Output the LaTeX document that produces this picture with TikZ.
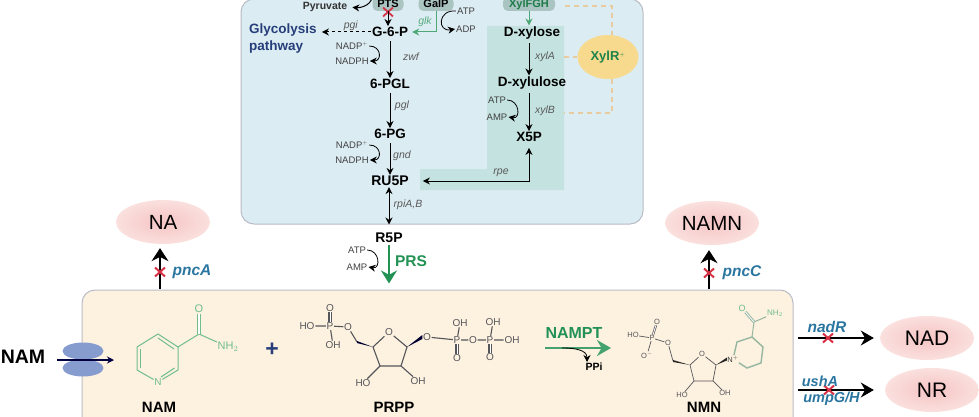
\documentclass[tikz,border=0pt]{standalone}
\usepackage{fontspec}
\setmainfont{Liberation Sans}
\definecolor{cellblue}{RGB}{220, 236, 243}
\definecolor{tealzone}{RGB}{196, 227, 224}
\definecolor{tealbox}{RGB}{170, 196, 194}
\definecolor{frameedge}{RGB}{185, 188, 198}
\definecolor{creamfill}{RGB}{253, 241, 223}
\definecolor{pathgreen}{RGB}{34, 146, 84}
\definecolor{molgreen}{RGB}{112, 190, 140}
\definecolor{navytext}{RGB}{38, 62, 122}
\definecolor{genetext}{RGB}{42, 118, 160}
\definecolor{koRed}{RGB}{214, 50, 70}
\definecolor{pinkdark}{RGB}{245, 196, 196}
\definecolor{pinklight}{RGB}{250, 224, 222}
\definecolor{sungold}{RGB}{248, 218, 142}
\definecolor{dashtan}{RGB}{232, 204, 160}
\definecolor{porteblue}{RGB}{134, 156, 206}
\definecolor{bondgrey}{RGB}{85, 85, 92}
\usepackage{tikz}
\usetikzlibrary{positioning, shapes.geometric, shapes.misc, arrows.meta, calc}
\tikzset{
    metab/.style={inner sep=1pt, font=\fontsize{13.5}{15}\selectfont\bfseries},
    cofac/.style={inner sep=1pt, text=black!75, font=\fontsize{9.5}{11}\selectfont},
    enz/.style={inner sep=1pt, text=black!65, font=\fontsize{10.5}{12}\selectfont\itshape},
    gene/.style={inner sep=1pt, text=genetext, font=\fontsize{15.5}{16}\selectfont\bfseries\itshape},
    prodell/.style={ellipse, inner sep=0pt, minimum width=94, minimum height=44, inner color=pinkdark, outer color=pinklight, font=\fontsize{20.5}{22}\selectfont},
    capbox/.style={rectangle, rounded corners=5, fill=tealbox, inner sep=0pt, minimum height=14, text height=8pt, text depth=0pt, font=\fontsize{11}{12}\selectfont\bfseries},
    rxn/.style={->, line width=1pt, shorten <=3pt},
    cofarrow/.style={->, line width=0.8pt},
    bigarrow/.style={-{Stealth[length=13, width=16]}, line width=1.8pt},
    knock/.style={cross out, draw=koRed, line width=2pt, inner sep=0pt, minimum width=8, minimum height=7},
    reg/.style={draw=dashtan, line width=1.5pt, dash pattern=on 5pt off 4pt},
    atom/.style={inner sep=0.6pt, text=bondgrey, font=\fontsize{10}{11}\selectfont},
    gatom/.style={inner sep=0.6pt, text=molgreen, font=\fontsize{10}{11}\selectfont},
    satom/.style={inner sep=0.4pt, text=bondgrey, font=\fontsize{7.5}{8}\selectfont},
    bond/.style={draw=bondgrey, line width=1.1pt},
    gbond/.style={draw=molgreen, line width=1pt}
}
\begin{document}
\begin{tikzpicture}[x=1pt, y=-1pt, >={Stealth[length=7, width=7]}]
    \useasboundingbox (0,0) rectangle (979,417);
    \clip (0,0) rectangle (979,417);

    % the two compartments
    \node [draw=frameedge, fill=cellblue, line width=1pt, rounded corners=13, minimum width=402, minimum height=225, inner sep=0pt] (cell) at (442,111.5) {};
    \node [draw=frameedge, fill=creamfill, line width=1pt, rounded corners=13, minimum width=711, minimum height=170, inner sep=0pt] (mix) at (437.5,375) {};
    \fill [tealzone] (487,26) -- (564,26) -- (564,190) -- (420,190) -- (420,169) -- (487,169) -- cycle;

    % pentose phosphate branch
    \node [capbox, minimum width=31] (pts) at (388,4) {PTS};
    \node [capbox, minimum width=35] (galp) at (436,4) {GalP};
    \node [capbox, minimum width=52, text=pathgreen!85!black] (xylfgh) at (529,4) {XylFGH};
    \node [inner sep=1pt, font=\fontsize{10.5}{12}\selectfont\bfseries, text=black!80] (pyr) at (325,7) {Pyruvate};
    \node [metab] (g6p) at (390,32) {G-6-P};
    \node [metab, text=navytext, anchor=west] (glyco) at (248,30) {Glycolysis};
    \node [metab, text=navytext, anchor=west] (glycopath) at (248,47) {pathway};
    \node [metab] (pgl) at (390,84) {6-PGL};
    \node [metab] (pg) at (390,134) {6-PG};
    \node [metab, font=\fontsize{14}{15}\selectfont\bfseries] (ru5p) at (390,181) {RU5P};
    \node [metab, font=\fontsize{14}{15}\selectfont\bfseries] (r5p) at (389,238) {R5P};
    \node [metab] (xylose) at (532,33) {D-xylose};
    \node [metab] (xylulose) at (532,83) {D-xylulose};
    \node [metab] (x5p) at (529,137) {X5P};

    \node [enz, above=0pt of g6p.west, xshift=-20] (pgi) {pgi};
    \node [enz, text=pathgreen!75] (glk) at (425,22) {glk};
    \node [enz] (zwf) at (411,57) {zwf};
    \node [enz] (pgllab) at (402,106) {pgl};
    \node [enz] (gnd) at (402,156) {gnd};
    \node [enz] (rpia) at (408,205) {rpiA,B};
    \node [enz] (rpe) at (501,173) {rpe};
    \node [enz] (xyla) at (545,57) {xylA};
    \node [enz] (xylb) at (545,111) {xylB};

    \node [cofac] (atp1) at (466,11) {ATP};
    \node [cofac] (adp1) at (466,29) {ADP};
    \node [cofac] (nadp1) at (352,46) {NADP$^{\scriptscriptstyle +}$};
    \node [cofac] (nadph1) at (352,61) {NADPH};
    \node [cofac] (nadp2) at (352,145) {NADP$^{\scriptscriptstyle +}$};
    \node [cofac] (nadph2) at (352,160) {NADPH};
    \node [cofac] (atp2) at (497,100) {ATP};
    \node [cofac] (amp2) at (497,117) {AMP};
    \node [cofac] (atp3) at (357,250) {ATP};
    \node [cofac] (amp3) at (357,267) {AMP};

    \node [knock, line width=1.8pt] (koPts) at (388,12) {};
    \draw [->, line width=1pt] (pts.south) -- (pts.south |- g6p.north);
    \draw [->, line width=1pt, shorten >=4pt] (pts.north west) to[out=-100, in=-5] (pyr.east);
    \draw [->, line width=1pt, dashed, shorten >=4pt] (g6p.west) -- (g6p.west -| glyco.east);
    \draw [->, line width=1pt, pathgreen!80, shorten >=3pt] (galp.south) |- (g6p.east);
    \draw [cofarrow] (atp1.west) to[out=175, in=190, looseness=2.6] (adp1.west);
    \draw [rxn] (g6p) -- (pgl);
    \draw [rxn] (pgl) -- (pg);
    \draw [rxn] (pg) -- (ru5p);
    \draw [<->, line width=1pt] (r5p |- ru5p.south) -- (r5p |- cell.south);
    \draw [cofarrow] (nadp1.east) to[out=0, in=0, looseness=2.1] (nadph1.east);
    \draw [cofarrow] (nadp2.east) to[out=0, in=0, looseness=2.1] (nadph2.east);
    \draw [cofarrow] (atp2.east) to[out=0, in=-10, looseness=1.9] (amp2.east);
    \draw [cofarrow] (atp3.east) to[out=0, in=-10, looseness=1.9] (amp3.east);
    \draw [->, line width=1pt, pathgreen!80] (xylfgh.south) -- (xylfgh.south |- xylose.north);
    \draw [rxn] (xylose.south -| xylfgh) -- (xylulose.north -| xylfgh);
    \draw [rxn] (xylulose.south -| xylfgh) -- (x5p.north);
    \draw [<->, line width=1pt, shorten <=5pt, shorten >=13pt] (x5p.south) |- (ru5p.east);
    \draw [bigarrow, draw=pathgreen, fill=pathgreen, shorten >=6pt, shorten <=1pt] (r5p.south) -- (r5p.south |- mix.north);
    \node [metab, text=pathgreen, font=\fontsize{15.5}{17}\selectfont\bfseries] (prs) at (411,261) {PRS};

    % XylR regulation
    \node [ellipse, fill=sungold, inner sep=0pt, minimum width=61, minimum height=44, text=pathgreen!90!black, font=\fontsize{13}{14}\selectfont\bfseries] (xylr) at (608,57) {XylR$^{\scriptscriptstyle +}$};
    \coordinate (regtop) at (565,6);
    \coordinate (regmid) at (564,57);
    \coordinate (regbot) at (564,113);
    \draw [reg] (regtop) -| ([xshift=4]xylr.north);
    \draw [reg] (regmid) -- (xylr.west);
    \draw [reg] ([xshift=4]xylr.south) |- (regbot);

    % side products on top of the box
    \node [prodell] (na) at (163,222) {NA};
    \node [prodell] (namn) at (712,223) {NAMN};
    \coordinate (nafoot) at (160,289);
    \coordinate (namnfoot) at (709,289);
    \draw [bigarrow, line width=1.2pt, -{Stealth[length=13, width=17]}, shorten >=4pt] (nafoot) -- (nafoot |- na.south);
    \draw [bigarrow, line width=1.2pt, -{Stealth[length=13, width=17]}, shorten >=5pt] (namnfoot) -- (namnfoot |- namn.south);
    \node [knock] (kopnca) at (160,272) {};
    \node [knock] (kopncc) at (709,273) {};
    \node [gene] (pnca) at (192,272) {pncA};
    \node [gene] (pncc) at (742,273) {pncC};

    % uptake
    \node [inner sep=0pt, font=\fontsize{19.5}{21}\selectfont\bfseries] (namout) at (23,357) {NAM};
    \node [ellipse, fill=porteblue, inner sep=0pt, minimum width=41, minimum height=17] (porteup) at (83,351) {};
    \node [ellipse, fill=porteblue, inner sep=0pt, minimum width=41, minimum height=17] (portedn) at (83,368) {};
    \coordinate (namenter) at (57,360);
    \coordinate (namin) at (114,360);
    \draw [->, line width=1.4pt, draw=black!75!blue] (namenter) -- (namin);

    % NAM molecule
    \coordinate (na1) at (158,334);
    \coordinate (na2) at (178,347);
    \coordinate (na3) at (178,370);
    \node [gatom] (nan) at (158,382) {N};
    \coordinate (na5) at (137,370);
    \coordinate (na6) at (137,347);
    \coordinate (nac) at (199,334);
    \node [gatom, font=\fontsize{11}{12}\selectfont] (nao) at (199,309) {O};
    \node [gatom, font=\fontsize{11}{12}\selectfont] (nanh) at (228,347) {NH$_2$};
    \draw [gbond] (na1) -- (na2) -- (na3) -- (nan) -- (na5) -- (na6) -- (na1);
    \draw [gbond] ($(na1)+(0,4)$) -- ($(na2)+(-4,2)$);
    \draw [gbond] ($(na3)+(-3.5,-2)$) -- ($(nan)+(3,-5)$);
    \draw [gbond] ($(na5)+(3.5,-2)$) -- ($(na6)+(3.5,2)$);
    \draw [gbond] (na2) -- (nac) -- (nanh);
    \draw [gbond, double, double distance=1.2pt, draw=molgreen] (nac) -- (nao);
    \node [metab, font=\fontsize{15}{16}\selectfont\bfseries] (namlab) at (159,407) {NAM};
    \node [inner sep=0pt, text=navytext, font=\fontsize{23}{24}\selectfont\bfseries] (plus) at (272,350) {+};

    % PRPP molecule
    \node [atom] (prho1) at (307,326) {HO};
    \node [atom] (prp1) at (330,326) {P};
    \node [atom] (pro1) at (330,308) {O};
    \node [atom] (proh1) at (333,345) {OH};
    \node [atom] (pro2) at (348,327) {O};
    \coordinate (prch) at (357,342);
    \coordinate (prc4) at (373,347);
    \node [atom] (prring) at (389,332) {O};
    \coordinate (prc1) at (407,347);
    \coordinate (prc2) at (401,366);
    \coordinate (prc3) at (380,366);
    \node [atom] (pro3) at (427,337) {O};
    \node [atom] (prp2) at (457,340) {P};
    \node [atom] (proh2) at (460,323) {OH};
    \node [atom] (pro4) at (457,358) {O};
    \node [atom] (pro5) at (473,340) {O};
    \node [atom] (prp3) at (490,340) {P};
    \node [atom] (proh3) at (493,322) {OH};
    \node [atom] (proh4) at (512,340) {OH};
    \node [atom] (pro6) at (490,357) {O};
    \node [atom] (prho2) at (363,383) {HO};
    \node [atom] (proh5) at (418,381) {OH};
    \draw [bond] (prho1) -- (prp1) -- (pro2) -- (prch);
    \draw [bond] (prp1) -- (proh1);
    \draw [bond, double, double distance=1pt] (prp1) -- (pro1);
    \draw [bond] (prc4) -- (prring) -- (prc1) -- (prc2) -- (prc3) -- (prc4);
    \draw [bond] (pro3) -- (prp2) -- (pro5) -- (prp3) -- (proh4);
    \draw [bond] (prp2) -- (proh2);
    \draw [bond] (prp3) -- (proh3);
    \draw [bond, double, double distance=1pt] (prp2) -- (pro4);
    \draw [bond, double, double distance=1pt] (prp3) -- (pro6);
    \draw [bond] (prc3) -- (prho2);
    \draw [bond] (prc2) -- (proh5);
    \fill [black!80!blue] (prc4) -- ($(prch)+(0,-1)$) -- ($(prch)+(0,1)$) -- cycle;
    \fill [black!80!blue] (prc1) -- ($(pro3.west)+(0,-2)$) -- ($(pro3.west)+(0,2)$) -- cycle;
    \node [metab, font=\fontsize{15}{16}\selectfont\bfseries] (prpp) at (394,407) {PRPP};

    % NAMPT step
    \node [metab, text=pathgreen, font=\fontsize{16}{17}\selectfont\bfseries] (nampt) at (574,333) {NAMPT};
    \coordinate (namptin) at (545,348);
    \coordinate (namptout) at (611,348);
    \draw [bigarrow, draw=pathgreen!85, -{Stealth[length=14, width=16]}] (namptin) -- (namptout);
    \node [inner sep=1pt, font=\fontsize{10.5}{12}\selectfont\bfseries] (ppi) at (594,367) {PPi};
    \coordinate (ppistart) at (562,348);
    \draw [cofarrow] (ppistart) to[out=0, in=90, looseness=1.1] ([xshift=-7]ppi.north);

    % NMN molecule
    \node [satom] (nmho) at (633,335) {HO};
    \node [satom] (nmp) at (652,338) {P};
    \node [satom] (nmo1) at (657,322) {O};
    \node [satom] (nmo2) at (647,355) {O$^{-}$};
    \node [satom] (nmo3) at (668,343) {O};
    \coordinate (nmch) at (673,361);
    \coordinate (nmc4) at (690,365);
    \node [satom] (nmring) at (702,354) {O};
    \coordinate (nmc1) at (716,365);
    \coordinate (nmc2) at (713,381);
    \coordinate (nmc3) at (694,381);
    \node [satom, text=black!75] (nmn1) at (733,359) {N$^{+}$};
    \coordinate (nmr2) at (737,342);
    \coordinate (nmr3) at (752,337);
    \coordinate (nmr4) at (763,347);
    \coordinate (nmr5) at (761,363);
    \coordinate (nmr6) at (747,368);
    \coordinate (nmcc) at (754,322);
    \node [gatom, font=\fontsize{9}{10}\selectfont] (nmoo) at (742,308) {O};
    \node [gatom, font=\fontsize{8}{9}\selectfont] (nmnh) at (775,313) {NH$_2$};
    \node [satom] (nmho2) at (682,395) {HO};
    \node [satom] (nmoh2) at (725,393) {OH};
    \draw [bond, line width=0.7pt] (nmho) -- (nmp) -- (nmo3) -- (nmch);
    \draw [bond, line width=0.7pt] (nmp) -- (nmo2);
    \draw [bond, line width=0.7pt, double, double distance=0.8pt] (nmp) -- (nmo1);
    \draw [bond, line width=0.7pt] (nmc4) -- (nmring) -- (nmc1) -- (nmc2) -- (nmc3) -- (nmc4);
    \draw [bond, line width=0.7pt] (nmc3) -- (nmho2);
    \draw [bond, line width=0.7pt] (nmc2) -- (nmoh2);
    \fill [black!85] (nmc4) -- ($(nmch)+(0,-1)$) -- ($(nmch)+(0,1)$) -- cycle;
    \fill [black!85] (nmc1) -- ($(nmn1.west)+(0,-1.5)$) -- ($(nmn1.west)+(0,1.5)$) -- cycle;
    \draw [gbond, line width=1.4pt, draw=molgreen!70!black!60] (nmn1) -- (nmr2) -- (nmr3) -- (nmr4) -- (nmr5) -- (nmr6) -- (nmn1);
    \draw [gbond, draw=molgreen!70!black!60] (nmr3) -- (nmcc) -- (nmnh);
    \draw [gbond, draw=molgreen!70!black!60, double, double distance=0.8pt] (nmcc) -- (nmoo);
    \node [metab, font=\fontsize{15}{16}\selectfont\bfseries] (nmnlab) at (704,407) {NMN};

    % right-hand products
    \node [prodell, font=\fontsize{21}{23}\selectfont] (nad) at (927,338) {NAD};
    \node [prodell, font=\fontsize{21}{23}\selectfont] (nr) at (932,390) {NR};
    \coordinate (nadfoot) at (798,338);
    \coordinate (nrfoot) at (798,390);
    \draw [bigarrow, line width=1.2pt, -{Stealth[length=13, width=15]}, shorten >=6pt] (nadfoot) -- (nad.west);
    \draw [bigarrow, line width=1.2pt, -{Stealth[length=13, width=15]}, shorten >=11pt] (nrfoot) -- (nr.west);
    \node [knock] (konadr) at (828,338) {};
    \node [knock] (koumpg) at (829,390) {};
    \node [gene] (nadr) at (827,327) {nadR};
    \node [gene, inner sep=0pt, font=\fontsize{14.5}{15}\selectfont\bfseries\itshape] (usha) at (820,381) {ushA};
    \node [gene, inner sep=0pt, font=\fontsize{14.5}{15}\selectfont\bfseries\itshape] (umpg) at (831.5,399) {umpG/H};
\end{tikzpicture}
\end{document}
